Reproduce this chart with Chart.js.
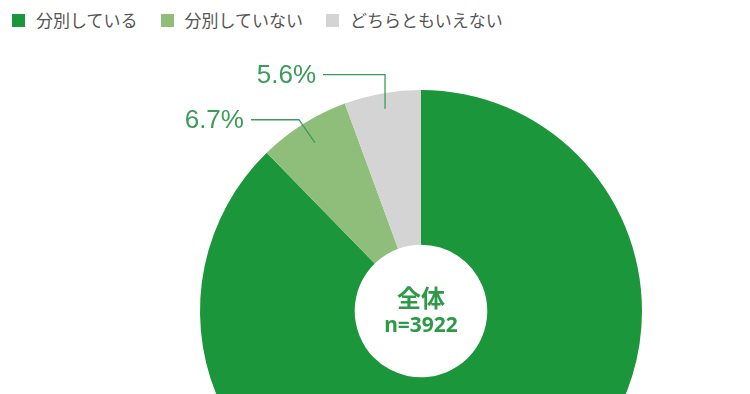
<!DOCTYPE html>
<html lang="ja">
<head>
<meta charset="UTF-8">
<title>分別の状況</title>
<script src="https://cdn.jsdelivr.net/npm/chart.js"></script>
<style>
  html, body { margin: 0; padding: 0; background: #fff; overflow: hidden; width: 750px; height: 394px; }
  #legend { position: absolute; left: 12px; top: 8px; display: flex; font-family: "Noto Sans CJK JP", sans-serif; font-size: 17px; line-height: 24px; color: #555; }
  #legend span.item { display: flex; align-items: center; margin-right: 23px; }
  #legend span.box { width: 13px; height: 13px; margin-right: 11px; display: inline-block; }
  #wrap { position: absolute; left: 0; top: 0; width: 750px; height: 600px; }
</style>
</head>
<body>
<div id="legend"></div>
<div id="wrap"><canvas id="pie"></canvas></div>
<script>
const categories = ['分別している', '分別していない', 'どちらともいえない'];
const shares = [87.7, 6.7, 5.6];
const labelTexts = ['', '6.7%', '5.6%'];
const colors = ['#1b963a', '#8fbe7b', '#d4d4d4'];

// HTML legend
const legend = document.getElementById('legend');
categories.forEach((c, i) => {
  const item = document.createElement('span');
  item.className = 'item';
  item.innerHTML = `<span class="box" style="background:${colors[i]}"></span>${c}`;
  legend.appendChild(item);
});

// leader lines + labels, positioned from the arc geometry
const calloutPlugin = {
  id: 'callout',
  afterDatasetsDraw(chart) {
    const ctx = chart.ctx;
    const arcs = chart.getDatasetMeta(0).data;
    ctx.save();
    ctx.strokeStyle = '#3a9c58';
    ctx.lineWidth = 1.3;
    ctx.fillStyle = '#3a9c58';
    ctx.font = '26px "Liberation Sans", Arial, sans-serif';
    ctx.textBaseline = 'middle';
    ctx.textAlign = 'right';
    arcs.forEach((arc, i) => {
      if (!labelTexts[i]) return;
      const mid = (arc.startAngle + arc.endAngle) / 2;
      const r = arc.outerRadius * (i === 2 ? 0.93 : 0.9);
      const ex = arc.x + Math.cos(mid) * r;
      const ey = arc.y + Math.sin(mid) * r;
      let tx, ty, kx;
      if (i === 2) { ty = ey - 34; kx = ex; tx = ex - 62; }
      else { ty = ey - 23; kx = ex - 16; tx = ex - 64; }
      ctx.beginPath();
      ctx.moveTo(ex, ey);
      ctx.lineTo(kx, ty);
      ctx.lineTo(tx, ty);
      ctx.stroke();
      ctx.fillText(labelTexts[i], tx - 7, ty + 1);
    });
    // centre text
    const a = arcs[0];
    ctx.textAlign = 'center';
    ctx.fillStyle = '#2e9a48';
    ctx.font = 'bold 24px "Noto Sans CJK JP", sans-serif';
    ctx.fillText('全体', a.x, a.y - 13);
    ctx.font = 'bold 21px "Noto Sans", sans-serif';
    ctx.fillText('n=3922', a.x, a.y + 15);
    ctx.restore();
  }
};

new Chart(document.getElementById('pie'), {
  type: 'doughnut',
  data: {
    labels: categories,
    datasets: [{
      data: shares,
      backgroundColor: colors,
      borderWidth: 0
    }]
  },
  options: {
    responsive: true,
    maintainAspectRatio: false,
    animation: false,
    cutout: '30%',
    layout: { padding: { left: 200, right: 108, top: 90, bottom: 68 } },
    plugins: { legend: { display: false }, tooltip: { enabled: false } }
  },
  plugins: [calloutPlugin]
});
</script>
</body>
</html>
